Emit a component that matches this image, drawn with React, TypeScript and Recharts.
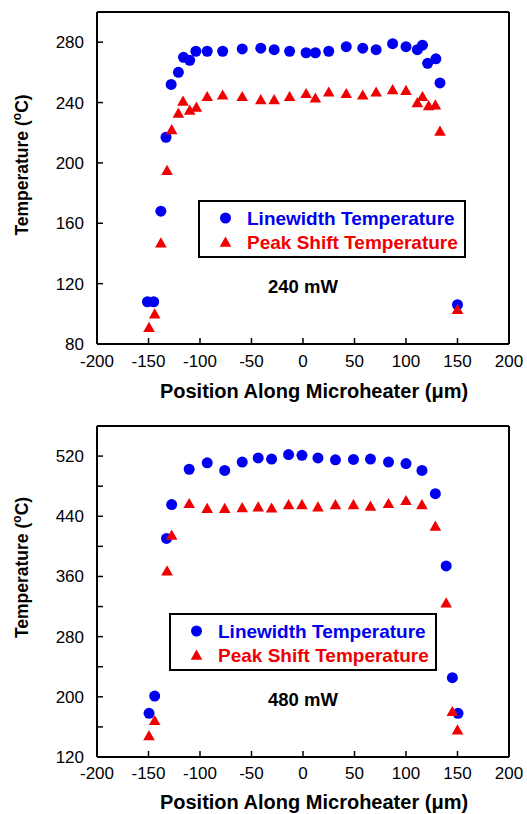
import React from 'react';
import { ScatterChart, Scatter, XAxis, YAxis, Legend } from 'recharts';

const FONT = '"Liberation Sans", Arial, Helvetica, sans-serif';
const BLUE = '#0000f0';
const RED = '#f00000';

// ---- 240 mW: position along microheater (µm) and temperature (°C) ----
const lwPos240 = [-151, -145, -138, -133, -128, -121, -116, -110, -104, -93, -78, -59, -41, -28, -13, 3, 12, 25, 42, 58, 71, 87, 100, 111, 116, 121, 129, 133, 150];
const lwTemp240 = [108, 108, 168, 217, 252, 260, 270, 268, 274, 274, 274, 275.5, 276, 275, 274, 273, 273, 274, 277, 276, 275, 279, 277, 275, 278, 266, 269, 253, 106];
const psPos240 = [-149.5, -144, -138, -132, -127.5, -121, -116.5, -110, -103.5, -93, -78, -59, -41, -28, -13, 3, 12, 25, 42, 58, 71, 87, 100, 111, 116, 122, 128.5, 133, 150];
const psTemp240 = [91, 100, 147, 195, 222, 233, 241, 235, 237, 244, 245, 244, 242, 242, 244, 246, 243, 247, 246, 245, 247, 248.5, 248, 240, 244, 238, 238.5, 221, 103];

// ---- 480 mW ----
const lwPos480 = [-149.5, -144, -132.5, -127.5, -110.5, -93, -76, -59, -43.5, -30.5, -14, -1, 14.5, 31.5, 49, 65.5, 83, 100, 115.5, 128.5, 139, 145, 150.5];
const lwTemp480 = [178, 201, 410.5, 455.5, 502.5, 511, 501, 512, 517.5, 516, 522, 521, 517.5, 515, 515.5, 516, 512, 510, 501, 470, 374, 225.5, 178];
const psPos480 = [-149.5, -144, -132, -127.5, -110.5, -93, -76, -59, -43.5, -30.5, -14, -1, 14.5, 31.5, 49, 65.5, 83, 100, 115.5, 128.5, 139, 145, 150];
const psTemp480 = [148.5, 168.5, 367.5, 415, 457, 450.5, 450.5, 451.5, 452.5, 451, 455.5, 455.5, 452.5, 455.5, 455.5, 453.5, 457, 461, 455.5, 427, 325, 180.5, 156];

// ---- axis ticks ----
const xTicks = [-200, -150, -100, -50, 0, 50, 100, 150, 200];
const yTicks240 = [80, 120, 160, 200, 240, 280];
const yTicks480 = [120, 160, 200, 240, 280, 320, 360, 400, 440, 480, 520];
const yLabels480 = [120, 200, 280, 360, 440, 520];

const seriesNames = ['Linewidth Temperature', 'Peak Shift Temperature'];
const powerLabels = ['240 mW', '480 mW'];

const zip = (xs: number[], ys: number[]) => xs.map((x, i) => ({ x, y: ys[i] }));

const Dot = (p: any) => <circle cx={p.cx} cy={p.cy} r={5.5} fill={BLUE} />;
const Tri = (p: any) => (
  <polygon
    points={`${p.cx},${p.cy - 5.6} ${p.cx + 5.8},${p.cy + 4.6} ${p.cx - 5.8},${p.cy + 4.6}`}
    fill={RED}
  />
);

const LegendBox = () => (
  <svg width={268} height={58} style={{ display: 'block' }}>
    <rect x={1} y={1} width={266} height={56} fill="#fff" stroke="#000" strokeWidth={2} />
    <circle cx={27.5} cy={18} r={5.5} fill={BLUE} />
    <polygon points="27.5,36.6 33.3,46.8 21.7,46.8" fill={RED} />
    <text x={49} y={18} dominantBaseline="central" fill={BLUE} fontWeight="bold" fontSize={19} fontFamily={FONT}>
      {seriesNames[0]}
    </text>
    <text x={49} y={42} dominantBaseline="central" fill={RED} fontWeight="bold" fontSize={19} fontFamily={FONT}>
      {seriesNames[1]}
    </text>
  </svg>
);

const xTitle = (baseline: number) => (props: any) => {
  const vb = props.viewBox;
  return (
    <text
      x={vb.x + vb.width / 2 + 11}
      y={vb.y + baseline}
      textAnchor="middle"
      fontSize={20}
      fontWeight="bold"
      fontFamily={FONT}
      fill="#000"
    >
      Position Along Microheater (μm)
    </text>
  );
};

const yTitle = (shift: number) => (props: any) => {
  const vb = props.viewBox;
  const cx = 27.5;
  const cy = vb.y + vb.height / 2 + shift;
  return (
    <text
      x={cx}
      y={cy}
      transform={`rotate(-90 ${cx} ${cy})`}
      textAnchor="middle"
      fontSize={17.5}
      fontWeight="bold"
      fontFamily={FONT}
      fill="#000"
    >
      Temperature (<tspan dy={-7} fontSize={12}>o</tspan>
      <tspan dy={7}>C)</tspan>
    </text>
  );
};

const tickStyle = { fontSize: 17, fontFamily: FONT, fill: '#000' };
const axisLine = { stroke: '#000', strokeWidth: 2 };
const tickLine = { stroke: '#000', strokeWidth: 1.5 };

type PanelProps = {
  height: number;
  marginTop: number;
  xAxisHeight: number;
  xTickMargin: number;
  xTitleBaseline: number;
  yTitleShift: number;
  yDomain: [number, number];
  yTicks: number[];
  yFormat: (v: number) => string;
  lw: { x: number; y: number }[];
  ps: { x: number; y: number }[];
  legendLeft: number;
  legendTop: number;
};

const Panel = (p: PanelProps) => (
  <ScatterChart width={527} height={p.height} margin={{ top: p.marginTop, right: 17, bottom: 0, left: 0 }}>
    <XAxis
      xAxisId="b"
      type="number"
      dataKey="x"
      domain={[-200, 200]}
      ticks={xTicks}
      interval={0}
      allowDataOverflow
      height={p.xAxisHeight}
      tickSize={-6}
      tickMargin={p.xTickMargin}
      tick={tickStyle}
      axisLine={axisLine}
      tickLine={tickLine}
      label={xTitle(p.xTitleBaseline)}
    />
    <XAxis
      xAxisId="t"
      orientation="top"
      type="number"
      domain={[-200, 200]}
      ticks={xTicks}
      interval={0}
      allowDataOverflow
      height={1}
      tickSize={-6}
      tick={false}
      axisLine={axisLine}
      tickLine={tickLine}
    />
    <YAxis
      yAxisId="l"
      type="number"
      dataKey="y"
      domain={p.yDomain}
      ticks={p.yTicks}
      interval={0}
      allowDataOverflow
      width={97}
      tickSize={-6}
      tickMargin={19}
      tick={tickStyle}
      tickFormatter={p.yFormat}
      axisLine={axisLine}
      tickLine={tickLine}
      label={yTitle(p.yTitleShift)}
    />
    <YAxis
      yAxisId="r"
      orientation="right"
      type="number"
      domain={p.yDomain}
      ticks={p.yTicks}
      interval={0}
      allowDataOverflow
      width={1}
      tickSize={-6}
      tick={false}
      axisLine={axisLine}
      tickLine={tickLine}
    />
    <Legend
      layout="horizontal"
      verticalAlign="middle"
      align="center"
      content={() => <LegendBox />}
      wrapperStyle={{ left: p.legendLeft, top: p.legendTop, width: 268, height: 58 }}
    />
    <Scatter
      name={seriesNames[0]}
      xAxisId="b"
      yAxisId="l"
      data={p.lw}
      shape={Dot}
      isAnimationActive={false}
    />
    <Scatter
      name={seriesNames[1]}
      xAxisId="b"
      yAxisId="l"
      data={p.ps}
      shape={Tri}
      isAnimationActive={false}
    />
  </ScatterChart>
);

export default function App() {
  return (
    <div style={{ position: 'absolute', left: 0, top: 0, width: 527, height: 814, background: '#fff' }}>
      <div style={{ position: 'absolute', left: 0, top: 0 }}>
        <Panel
          height={410}
          marginTop={11}
          xAxisHeight={66}
          xTickMargin={17.4}
          xTitleBaseline={53.6}
          yTitleShift={-13}
          yDomain={[80, 300]}
          yTicks={yTicks240}
          yFormat={(v) => String(v)}
          lw={zip(lwPos240, lwTemp240)}
          ps={zip(psPos240, psTemp240)}
          legendLeft={198}
          legendTop={200}
        />
      </div>
      <div style={{ position: 'absolute', left: 0, top: 410 }}>
        <Panel
          height={404}
          marginTop={15}
          xAxisHeight={57}
          xTickMargin={15.7}
          xTitleBaseline={52.3}
          yTitleShift={-24}
          yDomain={[120, 560]}
          yTicks={yTicks480}
          yFormat={(v) => (yLabels480.includes(v) ? String(v) : '')}
          lw={zip(lwPos480, lwTemp480)}
          ps={zip(psPos480, psTemp480)}
          legendLeft={169}
          legendTop={203}
        />
      </div>
      <svg
        width={527}
        height={814}
        style={{ position: 'absolute', left: 0, top: 0, pointerEvents: 'none' }}
      >
        <text x={303} y={293.2} textAnchor="middle" fontSize={18.5} fontWeight="bold" fontFamily={FONT} fill="#000">
          {powerLabels[0]}
        </text>
        <text x={303} y={706} textAnchor="middle" fontSize={18.5} fontWeight="bold" fontFamily={FONT} fill="#000">
          {powerLabels[1]}
        </text>
      </svg>
    </div>
  );
}
